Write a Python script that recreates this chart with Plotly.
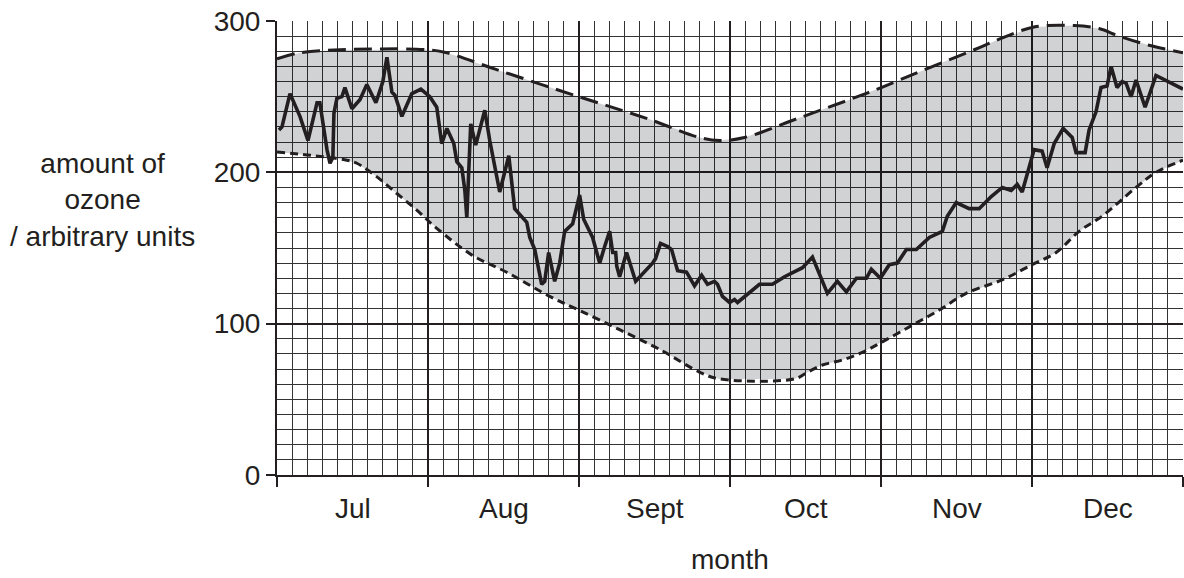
import plotly.graph_objects as go

# ---- data (x in months from start of July; y in arbitrary units) ----
months = ["Jul", "Aug", "Sept", "Oct", "Nov", "Dec"]

ozone_x = [0.013, 0.033, 0.086, 0.152, 0.205, 0.265, 0.284, 0.331, 0.351, 0.370,
           0.377, 0.397, 0.430, 0.450, 0.496, 0.549, 0.595, 0.655, 0.675, 0.701,
           0.728, 0.761, 0.781, 0.827, 0.893, 0.953, 1.012, 1.058, 1.091, 1.125,
           1.171, 1.191, 1.224, 1.244, 1.257, 1.283, 1.316, 1.376, 1.409, 1.475,
           1.535, 1.574, 1.654, 1.674, 1.707, 1.753, 1.773, 1.799, 1.839, 1.872,
           1.905, 1.958, 2.004, 2.031, 2.090, 2.137, 2.170, 2.203, 2.223, 2.243,
           2.250, 2.269, 2.315, 2.375, 2.487, 2.507, 2.540, 2.587, 2.613, 2.653,
           2.712, 2.765, 2.812, 2.851, 2.897, 2.917, 2.950, 2.997, 3.030, 3.050,
           3.195, 3.281, 3.361, 3.480, 3.546, 3.645, 3.711, 3.771, 3.837, 3.903,
           3.936, 3.996, 4.055, 4.108, 4.168, 4.234, 4.320, 4.406, 4.439, 4.498,
           4.584, 4.650, 4.730, 4.803, 4.862, 4.902, 4.935, 5.014, 5.067, 5.100,
           5.147, 5.206, 5.266, 5.292, 5.352, 5.378, 5.424, 5.457, 5.497, 5.524,
           5.563, 5.596, 5.623, 5.656, 5.689, 5.749, 5.821, 6.000]
ozone_y = [228, 230, 252, 237, 221, 246, 246, 215, 206, 210,
           239, 249, 250, 256, 242, 248, 258, 246, 252, 260,
           276, 253, 251, 237, 252, 255, 250, 243, 219, 229,
           219, 207, 203, 188, 170, 232, 218, 241, 221, 187,
           211, 176, 167, 157, 149, 126, 128, 147, 128, 140,
           161, 166, 185, 169, 157, 140, 151, 161, 147, 147,
           138, 131, 147, 128, 140, 143, 153, 151, 149, 135,
           134, 125, 132, 126, 128, 126, 118, 114, 116, 114,
           126, 126, 131, 137, 144, 120, 128, 121, 130, 130,
           136, 130, 139, 140, 149, 149, 157, 161, 171, 180,
           176, 176, 184, 190, 188, 192, 187, 215, 214, 203,
           219, 229, 223, 213, 213, 228, 240, 256, 257, 270,
           256, 260, 259, 250, 261, 243, 264, 255]

upper_x = [0.000, 0.152, 0.417, 0.999, 1.125, 1.450, 1.998, 2.467, 2.798, 2.930,
           3.096, 3.460, 3.790, 4.002, 4.267, 4.617, 4.783, 5.014, 5.279, 5.444,
           5.577, 5.775, 6.000]
upper_y = [275, 279, 281, 281, 279, 268, 250, 235, 223, 221,
           223, 236, 248, 256, 267, 281, 288, 296, 297, 295,
           290, 284, 279]

lower_x = [0.000, 0.198, 0.331, 0.463, 0.529, 0.662, 0.794, 0.926, 1.058, 1.297,
           1.521, 1.806, 1.998, 2.269, 2.534, 2.798, 2.930, 3.427, 3.506, 3.612,
           3.744, 3.876, 4.009, 4.207, 4.386, 4.564, 4.803, 5.001, 5.160, 5.312,
           5.464, 5.689, 5.821, 6.000]
lower_y = [213.5, 211.5, 210, 208, 206, 197, 186, 175, 163, 145,
           134, 118, 109, 96, 83, 68, 63.5, 63.5, 67.5, 72.7,
           76, 81, 88, 99, 109, 120, 129, 139, 147, 161,
           171, 190, 200, 208]

y_ticks = [0, 100, 200, 300]

INK = "#231f20"
FONT = "Liberation Sans, Arial, Helvetica, sans-serif"
FS = 28

fig = go.Figure()

# shaded band between the two dashed curves
fig.add_trace(go.Scatter(
    x=upper_x + lower_x[::-1], y=upper_y + lower_y[::-1],
    mode="lines", fill="toself", fillcolor="rgba(0,8,14,0.18)",
    line=dict(width=0), hoverinfo="skip", showlegend=False))

fig.add_trace(go.Scatter(
    x=upper_x, y=upper_y, mode="lines", line_shape="spline",
    line=dict(color=INK, width=3, dash="18px,8px"), showlegend=False))

fig.add_trace(go.Scatter(
    x=lower_x, y=lower_y, mode="lines", line_shape="spline",
    line=dict(color=INK, width=3, dash="8px,5px"), showlegend=False))

fig.add_trace(go.Scatter(
    x=ozone_x, y=ozone_y, mode="lines",
    line=dict(color=INK, width=3.6), showlegend=False))

fig.update_layout(
    width=1184, height=578,
    margin=dict(l=277, r=1, t=21, b=103),
    paper_bgcolor="white", plot_bgcolor="white",
    font=dict(family=FONT, size=FS, color=INK),
    xaxis=dict(
        range=[0, 6], tick0=0, dtick=1,
        showgrid=True, gridcolor=INK, gridwidth=2,
        showline=True, linecolor=INK, linewidth=2,
        ticks="outside", ticklen=10, tickwidth=2, tickcolor=INK,
        showticklabels=False, zeroline=False,
        minor=dict(dtick=0.1, tick0=0, showgrid=True,
                   gridcolor="#333333", gridwidth=1.2, ticks=""),
    ),
    yaxis=dict(
        range=[0, 300], tickvals=y_ticks,
        showgrid=True, gridcolor=INK, gridwidth=2,
        showline=True, linecolor=INK, linewidth=2,
        ticks="outside", ticklen=9, tickwidth=2, tickcolor=INK,
        tickfont=dict(size=FS), zeroline=False, ticklabeloverflow="allow",
        minor=dict(dtick=10, tick0=0, showgrid=True,
                   gridcolor="#333333", gridwidth=1.2, ticks=""),
    ),
)

for i, m in enumerate(months):
    fig.add_annotation(x=i + 0.5, y=-0.073, xref="x", yref="paper",
                       text=m, showarrow=False, xanchor="center", yanchor="middle",
                       font=dict(size=FS, color=INK))

fig.add_annotation(x=0.5, y=-0.187, xref="paper", yref="paper",
                   text="month", showarrow=False, xanchor="center", yanchor="middle",
                   font=dict(size=FS, color=INK))

fig.add_annotation(x=-0.193, y=0.606, xref="paper", yref="paper",
                   text="amount of<br>ozone<br>/ arbitrary units", showarrow=False,
                   xanchor="center", yanchor="middle", align="center",
                   font=dict(size=FS, color=INK))

fig.write_html(
    "out.html",
    config={"displayModeBar": False},
    post_script="document.body.style.margin='0';"
                "document.documentElement.style.overflow='hidden';"
                "document.body.style.overflow='hidden';",
)
